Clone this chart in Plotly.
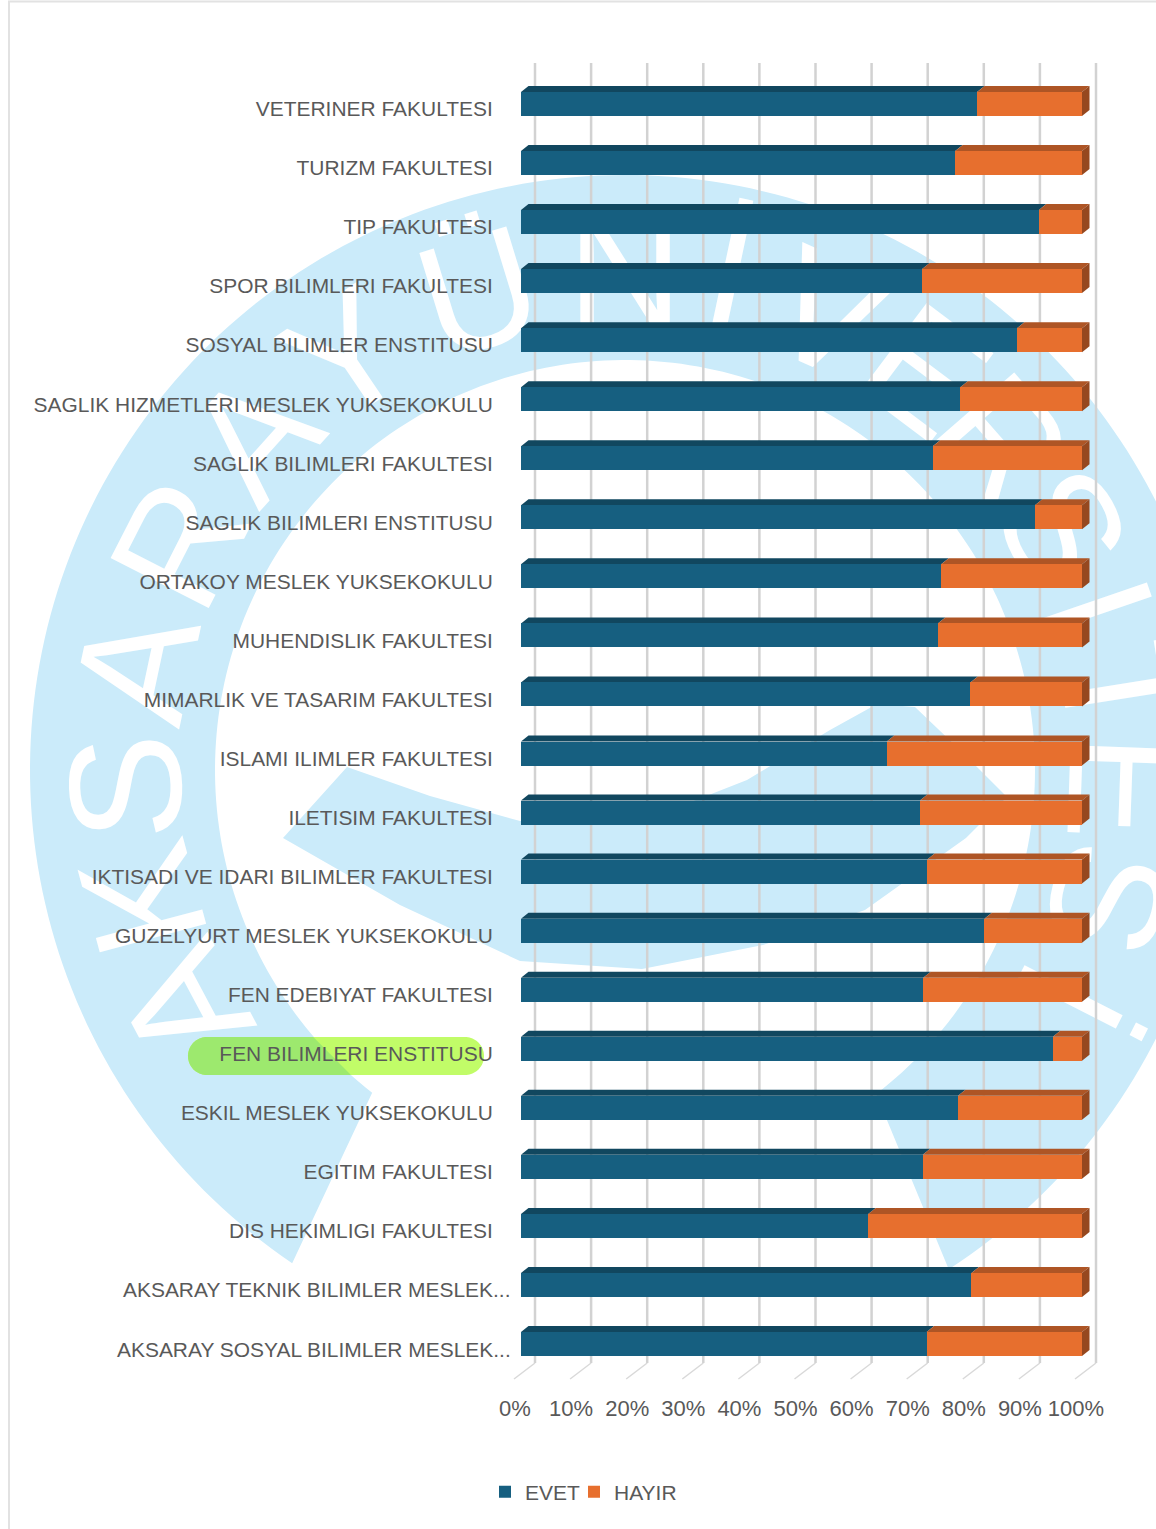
import numpy as np
import plotly.graph_objects as go

# ---------- data (bottom to top, as the category axis runs) ----------
categories = [
    "AKSARAY SOSYAL BILIMLER MESLEK...", "AKSARAY TEKNIK BILIMLER MESLEK...",
    "DIS HEKIMLIGI FAKULTESI", "EGITIM FAKULTESI", "ESKIL MESLEK YUKSEKOKULU",
    "FEN BILIMLERI ENSTITUSU", "FEN EDEBIYAT FAKULTESI", "GUZELYURT MESLEK YUKSEKOKULU",
    "IKTISADI VE IDARI BILIMLER FAKULTESI", "ILETISIM FAKULTESI", "ISLAMI ILIMLER FAKULTESI",
    "MIMARLIK VE TASARIM FAKULTESI", "MUHENDISLIK FAKULTESI", "ORTAKOY MESLEK YUKSEKOKULU",
    "SAGLIK BILIMLERI ENSTITUSU", "SAGLIK BILIMLERI FAKULTESI",
    "SAGLIK HIZMETLERI MESLEK YUKSEKOKULU", "SOSYAL BILIMLER ENSTITUSU",
    "SPOR BILIMLERI FAKULTESI", "TIP FAKULTESI", "TURIZM FAKULTESI", "VETERINER FAKULTESI",
]
evet = [72.3, 80.3, 61.9, 71.6, 77.9, 94.8, 71.7, 82.6, 72.4, 71.1, 65.2,
        80.1, 74.3, 74.9, 91.6, 73.4, 78.3, 88.4, 71.5, 92.3, 77.4, 81.3]
hayir = [27.7, 19.7, 38.1, 28.4, 22.1, 5.2, 28.3, 17.4, 27.6, 28.9, 34.8,
         19.9, 25.7, 25.1, 8.4, 26.6, 21.7, 11.6, 28.5, 7.7, 22.6, 18.7]
x_ticks = [0, 10, 20, 30, 40, 50, 60, 70, 80, 90, 100]
x_tick_labels = ["0%", "10%", "20%", "30%", "40%", "50%", "60%", "70%", "80%", "90%", "100%"]
watermark_letters = list("AKSARAY") + list("ÜNİVERSİTESİ")
watermark_angles = [-118, -105, -92, -78, -63, -48, -34, -17, 0, 12, 24, 37, 49, 61, 71, 81, 92, 105, 117]

# ---------- layout constants ----------
W, H = 1156, 1529
FX0, FX100 = 521.0, 1082.0
PXU = (FX100 - FX0) / 100
XMIN, XMAX = -2.0, 104.0
PLOT_L, PLOT_R = FX0 + XMIN * PXU, FX0 + XMAX * PXU
PLOT_T, PLOT_B = 63.0, 1363.0
STEP = 59.05
C0 = 1344.0
V_TOP, V_BOT = (C0 - PLOT_T) / STEP, (C0 - PLOT_B) / STEP
BAR = 24 / STEP
DX, DY = 7.5 / PXU, 6 / STEP
WALL = 14 / PXU

BLUE, ORANGE = "#165F80", "#E76F2E"
BLUE_TOP, ORANGE_TOP, ORANGE_SIDE = "#11475F", "#AE5525", "#96481F"
WM = "#CBEBFA"
TXT = "#595959"
FONT = "Liberation Sans"


def px(x):
    return x / W


def py(y):
    return 1 - y / H


def path(points):
    return "M" + " L".join(f"{px(a):.5f},{py(b):.5f}" for a, b in points) + " Z"


shapes = []


def wm_poly(pts, color=WM):
    shapes.append(dict(type="path", xref="paper", yref="paper", layer="below", path=path(pts),
                       fillcolor=color, line=dict(width=0)))


# ---------- watermark ----------
CX, CY, RO, RI = 625.0, 770.0, 595.0, 410.0


def ang(x, y):
    return np.arctan2(x - CX, -(y - CY))


a0o, a1o = ang(293, 1262), ang(946, 1265)
a0i, a1i = ang(372, 1093), ang(873, 1090)
ta = np.linspace(a0o, a1o, 240)
tb = np.linspace(a1i, a0i, 240)
ring = [(CX + RO * np.sin(t), CY - RO * np.cos(t)) for t in ta] + \
       [(CX + RI * np.sin(t), CY - RI * np.cos(t)) for t in tb]
wm_poly(ring)

swoosh = [(283, 838), (347, 767), (430, 796), (520, 821), (640, 822), (747, 780), (830, 730), (877, 704),
          (915, 707), (960, 750), (1007, 797), (966, 838), (865, 910), (763, 945), (642, 969),
          (520, 961), (400, 905)]
wm_poly(swoosh)

R_TXT = 515
for ch, a in zip(watermark_letters, watermark_angles):
    t = np.radians(a)
    xc, yc = CX + R_TXT * np.sin(t), CY - R_TXT * np.cos(t)
    shapes.append(dict(type="rect", xref="paper", yref="paper", layer="below",
                       x0=px(xc - 1), x1=px(xc + 1), y0=py(yc + 1), y1=py(yc - 1),
                       line=dict(width=0), fillcolor="rgba(0,0,0,0)",
                       label=dict(text=ch, textangle=a, textposition="middle center",
                                  font=dict(family="Liberation Sans Narrow, Liberation Sans", size=160,
                                            color="#FFFFFF"))))

# ---------- highlight pill ----------
PL, PR, PT, PB = 188.0, 484.0, 1037.0, 1075.0
rad = (PB - PT) / 2
th = np.linspace(-np.pi / 2, np.pi / 2, 40)
right = [(PR - rad + rad * np.cos(t), PT + rad + rad * np.sin(t)) for t in th]
left = [(PL + rad - rad * np.cos(t), PT + rad + rad * np.sin(t)) for t in th[::-1]]
bottom = [(x, PB) for x in np.linspace(PR - rad, PL + rad, 200)]
topline = [(x, PT) for x in np.linspace(PL + rad, PR - rad, 200)]
wm_poly(right + bottom + left + topline, "#C1FC68")
over_blue = [p for p in bottom + left + topline if np.hypot(p[0] - CX, p[1] - CY) >= RI]
wm_poly(over_blue, "#9DE96E")

# ---------- panel border ----------
shapes.append(dict(type="line", xref="paper", yref="paper", layer="below", x0=px(9), x1=px(9), y0=0, y1=py(2),
                   line=dict(color="#E2E2E2", width=2)))
shapes.append(dict(type="line", xref="paper", yref="paper", layer="below", x0=px(8), x1=1, y0=py(1.5), y1=py(1.5),
                   line=dict(color="#E2E2E2", width=2)))

# ---------- back-wall gridlines and floor lines ----------
for k in x_ticks:
    shapes.append(dict(type="line", xref="x", yref="paper", layer="between",
                       x0=k + WALL, x1=k + WALL, y0=py(PLOT_T), y1=py(PLOT_B),
                       line=dict(color="#D2D2D2", width=2.5)))
    shapes.append(dict(type="line", xref="x", yref="paper", layer="between",
                       x0=k + WALL, x1=k - 7 / PXU, y0=py(PLOT_B), y1=py(1379),
                       line=dict(color="#D9D9D9", width=1.5)))

# ---------- 3-D faces of the bars, from the data ----------
for i, (e, h) in enumerate(zip(evet, hayir)):
    top = i + BAR / 2
    bot = i - BAR / 2
    end = e + h
    for a, b, col in ((0, e, BLUE_TOP), (e, end, ORANGE_TOP)):
        shapes.append(dict(type="path", xref="x", yref="y", layer="between",
                           path=f"M{a},{top} L{a + DX},{top + DY} L{b + DX},{top + DY} L{b},{top} Z",
                           fillcolor=col, line=dict(width=0)))
    shapes.append(dict(type="path", xref="x", yref="y", layer="between",
                       path=f"M{end},{top} L{end + DX},{top + DY} L{end + DX},{bot + DY} L{end},{bot} Z",
                       fillcolor=ORANGE_SIDE, line=dict(width=0)))

# ---------- figure ----------
y_idx = list(range(len(categories)))
fig = go.Figure()
fig.add_trace(go.Bar(name="EVET", y=y_idx, x=evet, orientation="h", width=BAR,
                     marker=dict(color=BLUE, line=dict(width=0)), legend="legend"))
fig.add_trace(go.Bar(name="HAYIR", y=y_idx, x=hayir, orientation="h", width=BAR,
                     marker=dict(color=ORANGE, line=dict(width=0)), legend="legend2"))

LABEL_DROP = 5 / STEP
short = [i for i, c in enumerate(categories) if not c.endswith("...")]
long_ = [i for i, c in enumerate(categories) if c.endswith("...")]
X_LABEL_SHIFT = 6 / PXU

annotations = [dict(text=categories[i], xref="paper", yref="y", x=px(513), y=i - LABEL_DROP,
                    xanchor="right", yanchor="middle", showarrow=False,
                    font=dict(family=FONT, size=20.95, color=TXT)) for i in long_]

legend_common = dict(orientation="h", y=py(1492), xanchor="left", yanchor="middle",
                     font=dict(family=FONT, size=21, color=TXT), bgcolor="rgba(0,0,0,0)")

fig.update_layout(
    width=W, height=H, autosize=False, margin=dict(l=0, r=0, t=0, b=0, autoexpand=False),
    paper_bgcolor="white", plot_bgcolor="rgba(0,0,0,0)",
    barmode="stack", shapes=shapes, annotations=annotations,
    font=dict(family=FONT, color=TXT), showlegend=True,
    xaxis=dict(domain=[px(PLOT_L), px(PLOT_R)], range=[XMIN, XMAX], tickmode="array",
               tickvals=[k - X_LABEL_SHIFT for k in x_ticks], ticktext=x_tick_labels,
               showgrid=False, zeroline=False, showline=False, ticks="", ticklabelstandoff=30,
               tickfont=dict(family=FONT, size=22, color=TXT), fixedrange=True),
    yaxis=dict(domain=[py(PLOT_B), py(PLOT_T)], range=[V_BOT, V_TOP], tickmode="array",
               tickvals=[i - LABEL_DROP for i in short], ticktext=[categories[i] for i in short],
               showgrid=False, zeroline=False, showline=False, ticks="", ticklabelstandoff=16,
               tickfont=dict(family=FONT, size=20.95, color=TXT), fixedrange=True),
    legend=dict(x=px(485), **legend_common),
    legend2=dict(x=px(574), **legend_common),
)

fig.write_html("out.html", config=dict(displayModeBar=False),
               post_script="document.body.style.margin='0';document.documentElement.style.overflow='hidden';")
